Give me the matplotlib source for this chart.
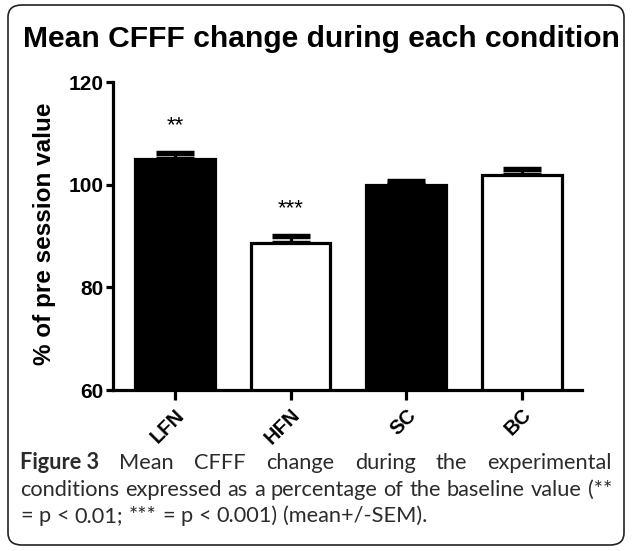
import matplotlib
matplotlib.use("Agg")
import matplotlib.pyplot as plt
from matplotlib.patches import FancyBboxPatch
import numpy as np

categories = ["LFN", "HFN", "SC", "BC"]
means = [105.0, 88.7, 100.0, 101.8]
sems = [1.2, 1.3, 0.7, 1.2]
fills = ["black", "white", "black", "white"]
stars = ["**", "***", "", ""]
yticks = [60, 80, 100, 120]

title = "Mean CFFF change during each condition"
ylabel = "% of pre session value"
caption_lines = [
    ["Figure 3", "Mean", "CFFF", "change", "during", "the", "experimental"],
    "conditions expressed as a percentage of the baseline value (**".split(" "),
    "= p < 0.01; *** = p < 0.001) (mean+/-SEM).".split(" "),
]

W, H = 633, 551
fig = plt.figure(figsize=(W / 100, H / 100), dpi=100)
fig.patch.set_facecolor("white")

AX_FONT = "Liberation Sans"

# border
border = FancyBboxPatch((8 / W, 6 / H), (624 - 8) / W, (546 - 6) / H,
                        boxstyle="round,pad=0,rounding_size=0.022",
                        transform=fig.transFigure, fill=False,
                        edgecolor="#222222", linewidth=1.2)
fig.patches.append(border)

ax = fig.add_axes([113 / W, 1 - 390 / H, (582 - 113) / W, (390 - 82) / H])
x = np.arange(len(categories))
lw = 2.3
ax.bar(x, means, width=0.69, color=fills, edgecolor="black", linewidth=lw,
       bottom=0, zorder=2)
ax.errorbar(x, means, yerr=[np.zeros(len(sems)), sems], fmt="none",
            ecolor="black", elinewidth=lw, capsize=14, capthick=lw * 1.7, zorder=1)
for xi, m, s, st in zip(x, means, sems, stars):
    if st:
        ax.text(xi, m + s + 5.3, st, ha="center", va="center",
                fontsize=16, family=AX_FONT)

ax.set_ylim(60, 120)
ax.set_xlim(-0.535, 3.52)
ax.set_yticks(yticks)
ax.set_xticks(x)
ax.set_xticklabels(categories, rotation=45, ha="right", rotation_mode="anchor",
                   fontsize=14.5, fontweight="bold", family=AX_FONT)
for lab in ax.get_yticklabels():
    lab.set_fontsize(15)
    lab.set_fontweight("bold")
    lab.set_family(AX_FONT)
ax.tick_params(axis="y", length=5, width=lw, pad=1.5)
ax.tick_params(axis="x", length=7, width=lw, pad=4)
for sp in ["top", "right"]:
    ax.spines[sp].set_visible(False)
for sp in ["left", "bottom"]:
    ax.spines[sp].set_linewidth(lw)
ax.set_ylabel(ylabel, fontsize=17.5, fontweight="bold", family=AX_FONT)
ax.yaxis.set_label_coords((56 - 113) / (582 - 113), 0.506)

fig.canvas.draw()
renderer = fig.canvas.get_renderer()

# title fit to width
t = fig.text(321 / W, 1 - 47 / H, title, ha="center", va="baseline",
             fontsize=20, fontweight="bold", family=AX_FONT)
bb = t.get_window_extent(renderer)
t.set_fontsize(20 * (598 / bb.width))

# caption, justified
cap_font = "Lato"
cap_color = "#2b2b2b"
left, right = 20, 612
baselines = [469, 496, 522]
probe = fig.text(0, 0, " ".join(caption_lines[1]), fontsize=14, family=cap_font)
fs = 14 * (right - left) / probe.get_window_extent(renderer).width
probe.remove()
for li, words in enumerate(caption_lines):
    objs = []
    for wi, w in enumerate(words):
        bold = (li == 0 and wi == 0)
        o = fig.text(0, 1 - baselines[li] / H, w, ha="left", va="baseline",
                     fontsize=fs, family=cap_font,
                     fontweight="bold" if bold else "normal", color=cap_color)
        objs.append(o)
    widths = [o.get_window_extent(renderer).width for o in objs]
    if li < 2:
        gap = (right - left - sum(widths)) / (len(objs) - 1)
    else:
        sp = fig.text(0, 0, "a a", fontsize=fs, family=cap_font)
        sp2 = fig.text(0, 0, "aa", fontsize=fs, family=cap_font)
        gap = sp.get_window_extent(renderer).width - sp2.get_window_extent(renderer).width
        sp.remove(); sp2.remove()
    xpos = left
    for o, wdt in zip(objs, widths):
        o.set_x(xpos / W)
        xpos += wdt + gap

fig.savefig("out.png", dpi=100, facecolor="white")
